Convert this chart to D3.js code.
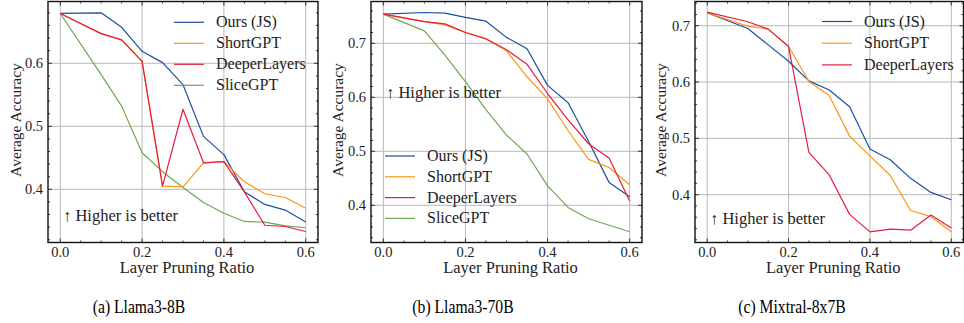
<!DOCTYPE html>
<html>
<head>
<meta charset="utf-8">
<script src="https://cdn.jsdelivr.net/npm/d3@7"></script>
<style>
  html, body { margin: 0; padding: 0; background: #fff; }
  svg { display: block; }
  text { font-family: "Liberation Serif", "Times New Roman", serif; fill: #222; }
</style>
</head>
<body>
<div id="chart"></div>
<script>
// pruning ratios shared by every run
const ratios = [0, 0.1, 0.15, 0.2, 0.25, 0.3, 0.35, 0.4, 0.45, 0.5, 0.55, 0.6];

// (a) Llama3-8B
const llama8bOurs   = [0.679, 0.680, 0.657, 0.619, 0.601, 0.566, 0.484, 0.455, 0.396, 0.376, 0.367, 0.348];
const llama8bShort  = [0.679, 0.647, 0.637, 0.603, 0.405, 0.404, 0.442, 0.444, 0.412, 0.393, 0.387, 0.370];
const llama8bDeeper = [0.679, 0.647, 0.637, 0.603, 0.405, 0.527, 0.442, 0.444, 0.396, 0.343, 0.341, 0.333];
const llama8bSlice  = [0.679, 0.582, 0.532, 0.458, 0.428, 0.403, 0.379, 0.362, 0.349, 0.348, 0.342, 0.339];

// (b) Llama3-70B
const llama70bOurs   = [0.754, 0.757, 0.756, 0.748, 0.741, 0.711, 0.690, 0.622, 0.590, 0.518, 0.442, 0.416];
const llama70bShort  = [0.754, 0.740, 0.734, 0.720, 0.709, 0.686, 0.638, 0.597, 0.538, 0.485, 0.470, 0.438];
const llama70bDeeper = [0.754, 0.740, 0.736, 0.720, 0.708, 0.688, 0.661, 0.607, 0.558, 0.514, 0.487, 0.408];
const llama70bSlice  = [0.754, 0.723, 0.678, 0.629, 0.577, 0.530, 0.495, 0.436, 0.396, 0.375, 0.363, 0.351];

// (c) Mixtral-8x7B
const mixtralOurs   = [0.723, 0.695, 0.666, 0.637, 0.602, 0.586, 0.556, 0.481, 0.462, 0.429, 0.404, 0.391];
const mixtralShort  = [0.723, 0.699, 0.694, 0.663, 0.601, 0.576, 0.504, 0.469, 0.434, 0.372, 0.361, 0.334];
const mixtralDeeper = [0.724, 0.707, 0.694, 0.663, 0.475, 0.435, 0.365, 0.334, 0.339, 0.337, 0.364, 0.341];

const methodNames = ['Ours (JS)', 'ShortGPT', 'DeeperLayers', 'SliceGPT'];
const xTicks = [0, 0.2, 0.4, 0.6];
const yTicks8b = [0.4, 0.5, 0.6];
const yTicks70b = [0.4, 0.5, 0.6, 0.7];
const yTicksMix = [0.4, 0.5, 0.6, 0.7];
const captions = ['(a) Llama3-8B', '(b) Llama3-70B', '(c) Mixtral-8x7B'];

const colors = {
  'Ours (JS)': '#1a4fa0',
  'ShortGPT': '#ff9512',
  'DeeperLayers': '#e61c40',
  'SliceGPT': '#6fa653'
};

const W = 964, H = 323;
const plotTop = 1.5, plotBottom = 242.5;

const panels = [
  {
    x0: 48, x1: 318, yDomain: [0.3156, 0.698], yTicks: yTicks8b,
    series: [llama8bOurs, llama8bShort, llama8bDeeper, llama8bSlice],
    drawOrder: [3, 0, 1, 2],
    legend: { x: 174, y: 22.3, dy: 21 },
    note: { x: 63, y: 221 },
    ylabX: 21, capX: 139
  },
  {
    x0: 371, x1: 642, yDomain: [0.3311, 0.7774], yTicks: yTicks70b,
    series: [llama70bOurs, llama70bShort, llama70bDeeper, llama70bSlice],
    drawOrder: [3, 0, 1, 2],
    legend: { x: 385, y: 156, dy: 20.8 },
    note: { x: 386, y: 98 },
    ylabX: 343, capX: 463
  },
  {
    x0: 695, x1: 963.5, yDomain: [0.3151, 0.743], yTicks: yTicksMix,
    series: [mixtralOurs, mixtralShort, mixtralDeeper],
    drawOrder: [0, 1, 2],
    legend: { x: 822, y: 21.5, dy: 21.7 },
    note: { x: 710, y: 224 },
    ylabX: 666, capX: 792
  }
];

const svg = d3.select('#chart').append('svg')
  .attr('width', W)
  .attr('height', H);

panels.forEach((p, pi) => {
  const x = d3.scaleLinear().domain([-0.03, 0.63]).range([p.x0, p.x1]);
  const y = d3.scaleLinear().domain(p.yDomain).range([plotBottom, plotTop]);
  const g = svg.append('g');

  // grid
  g.append('g').selectAll('line').data(xTicks).enter().append('line')
    .attr('x1', d => x(d)).attr('x2', d => x(d))
    .attr('y1', plotTop).attr('y2', plotBottom)
    .attr('stroke', '#b8b8b8').attr('stroke-width', 1);
  g.append('g').selectAll('line').data(p.yTicks).enter().append('line')
    .attr('x1', p.x0).attr('x2', p.x1)
    .attr('y1', d => y(d)).attr('y2', d => y(d))
    .attr('stroke', '#b8b8b8').attr('stroke-width', 1);

  // series
  const line = d3.line()
    .x((d, i) => x(ratios[i]))
    .y(d => y(d));
  p.drawOrder.forEach(si => {
    g.append('path')
      .datum(p.series[si])
      .attr('d', line)
      .attr('fill', 'none')
      .attr('stroke', colors[methodNames[si]])
      .attr('stroke-width', 1.2)
      .attr('stroke-linejoin', 'round');
  });

  // inward ticks on all four sides
  const minorX = d3.range(0, 0.6001, 0.05).filter(v => xTicks.every(t => Math.abs(t - v) > 1e-6));
  const minorY = d3.range(0.3, 0.8, 0.02).filter(v => v > p.yDomain[0] && v < p.yDomain[1]
    && p.yTicks.every(t => Math.abs(t - v) > 1e-6));
  const tk = g.append('g').attr('stroke', '#222').attr('stroke-width', 0.9);
  const addX = (vals, len) => vals.forEach(v => {
    tk.append('line').attr('x1', x(v)).attr('x2', x(v)).attr('y1', plotBottom).attr('y2', plotBottom - len);
    tk.append('line').attr('x1', x(v)).attr('x2', x(v)).attr('y1', plotTop).attr('y2', plotTop + len);
  });
  const addY = (vals, len) => vals.forEach(v => {
    tk.append('line').attr('y1', y(v)).attr('y2', y(v)).attr('x1', p.x0).attr('x2', p.x0 + len);
    tk.append('line').attr('y1', y(v)).attr('y2', y(v)).attr('x1', p.x1).attr('x2', p.x1 - len);
  });
  addX(xTicks, 4); addX(minorX, 2);
  addY(p.yTicks, 4); addY(minorY, 2);

  // frame
  g.append('rect')
    .attr('x', p.x0).attr('y', plotTop)
    .attr('width', p.x1 - p.x0).attr('height', plotBottom - plotTop)
    .attr('fill', 'none').attr('stroke', '#111').attr('stroke-width', 1.4);

  // tick labels
  g.append('g').selectAll('text').data(xTicks).enter().append('text')
    .attr('x', d => x(d)).attr('y', 256.5)
    .attr('text-anchor', 'middle')
    .style('font-size', '14.5px')
    .text(d => d3.format('.1f')(d));
  g.append('g').selectAll('text').data(p.yTicks).enter().append('text')
    .attr('x', p.x0 - 5).attr('y', d => y(d) + 5)
    .attr('text-anchor', 'end')
    .style('font-size', '14.5px')
    .text(d => d3.format('.1f')(d));

  // axis labels
  g.append('text')
    .attr('x', (p.x0 + p.x1) / 2 + 4).attr('y', 273)
    .attr('text-anchor', 'middle')
    .style('font-size', '16.5px')
    .text('Layer Pruning Ratio');
  g.append('text')
    .attr('transform', `translate(${p.ylabX},${(plotTop + plotBottom) / 2 - 2}) rotate(-90)`)
    .attr('text-anchor', 'middle')
    .style('font-size', '15.5px')
    .text('Average Accuracy');

  // annotation
  g.append('text')
    .attr('x', p.note.x).attr('y', p.note.y)
    .style('font-size', '16.5px')
    .text('\u2191 Higher is better');

  // legend
  const lg = g.append('g');
  p.series.forEach((s, si) => {
    const ly = p.legend.y + si * p.legend.dy;
    lg.append('line')
      .attr('x1', p.legend.x).attr('x2', p.legend.x + 30)
      .attr('y1', ly).attr('y2', ly)
      .attr('stroke', colors[methodNames[si]]).attr('stroke-width', 1.2);
    lg.append('text')
      .attr('x', p.legend.x + 42).attr('y', ly + 5)
      .style('font-size', '16px')
      .text(methodNames[si]);
  });

  // caption, slightly condensed like the paper's Times
  svg.append('text')
    .attr('transform', `translate(${p.capX},313) scale(0.87,1)`)
    .attr('text-anchor', 'middle')
    .style('font-size', '18px')
    .style('fill', '#000')
    .text(captions[pi]);
});
</script>
</body>
</html>
